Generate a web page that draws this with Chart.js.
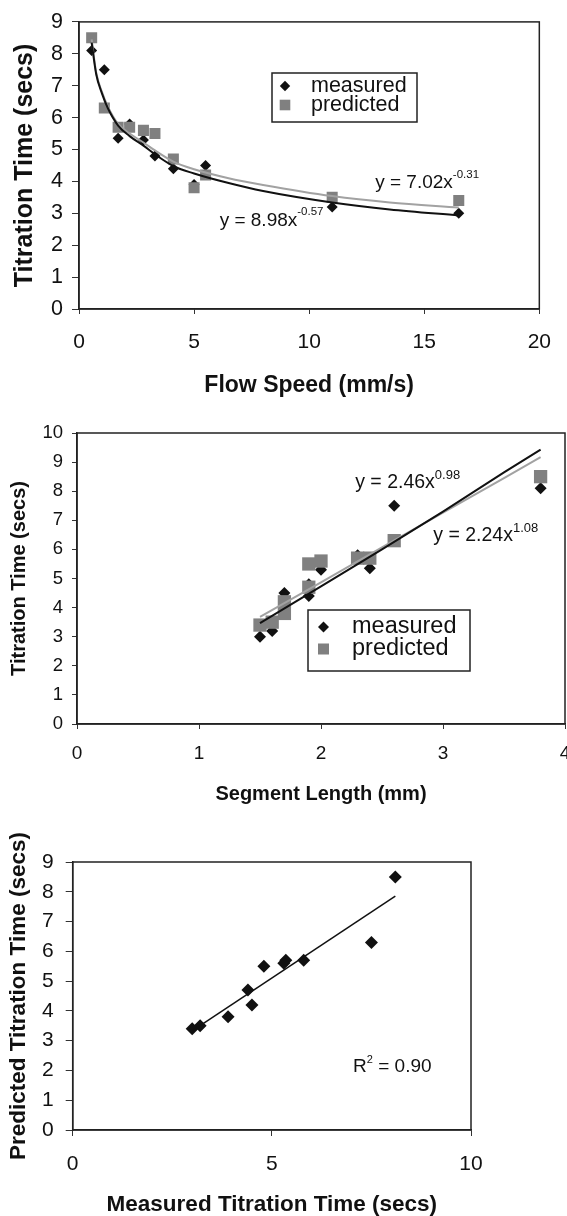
<!DOCTYPE html>
<html>
<head>
<meta charset="utf-8">
<title>Titration time charts</title>
<script src="https://cdn.jsdelivr.net/npm/chart.js@4.4.1/dist/chart.umd.min.js"></script>
<style>
  html, body { margin: 0; padding: 0; background: #fff; overflow: hidden; }
  body { width: 567px; height: 1216px; position: relative; }
  canvas { position: absolute; left: 0; }
  #speedChart { top: 0; }
  #lengthChart { top: 400px; }
  #agreementChart { top: 810px; }
</style>
</head>
<body>
<canvas id="speedChart" width="567" height="400"></canvas>
<canvas id="lengthChart" width="600" height="410"></canvas>
<canvas id="agreementChart" width="567" height="420"></canvas>

<script>
// Data (one entry per segment)
const flowSpeed = [0.55, 1.1, 1.7, 2.2, 2.8, 3.3, 4.1, 5.0, 5.5, 11, 16.5];
const segmentLength = [3.8, 2.6, 2.4, 2.3, 2.0, 1.9, 1.9, 1.7, 1.7, 1.6, 1.5];
const measured = [8.1, 7.5, 5.35, 5.8, 5.3, 4.8, 4.4, 3.9, 4.5, 3.2, 3.0];
const predicted = [8.5, 6.3, 5.7, 5.7, 5.6, 5.5, 4.7, 3.8, 4.2, 3.5, 3.4];

// Trend lines
const speedFitX = [0.55, 0.75, 1, 1.25, 1.7, 2.2, 2.8, 3.3, 4.1, 5, 6.5, 8, 11, 13.5, 16.5];
const speedMeasuredFit = [8.35, 7.35, 6.75, 6.3, 5.75, 5.42, 5.12, 4.85, 4.48, 4.25, 3.95, 3.7, 3.34, 3.12, 2.93];
const speedPredictedFit = [8.45, 7.4, 6.8, 6.35, 5.8, 5.5, 5.22, 4.97, 4.62, 4.38, 4.1, 3.89, 3.54, 3.34, 3.18];

const lengthFitX = [1.5, 2, 2.5, 3, 3.5, 3.8];
const lengthMeasuredFit = [3.47, 4.73, 6.0, 7.3, 8.65, 9.43];
const lengthPredictedFit = [3.68, 4.87, 6.07, 7.26, 8.45, 9.17];

const agreementFitX = [3.0, 8.1];
const agreementFitY = [3.33, 7.85];

// Axis ranges / ticks
const speedTicks = { min: 0, max: 20, step: 5 };
const lengthTicks = { min: 0, max: 4, step: 1 };
const agreementTicks = { min: 0, max: 10, step: 5 };
const timeTicks9 = { min: 0, max: 9, step: 1 };
const timeTicks10 = { min: 0, max: 10, step: 1 };

const FONT = '"Liberation Sans", Arial, Helvetica, sans-serif';
const INK = '#111';
const GREY_MARK = '#808080';
const GREY_LINE = '#a2a2a2';

Chart.defaults.font.family = FONT;
Chart.defaults.color = INK;

const toPoints = (xs, ys) => xs.map((x, i) => ({ x: x, y: ys[i] }));

function drawDiamond(ctx, x, y, r) {
  ctx.beginPath();
  ctx.moveTo(x - r, y);
  ctx.lineTo(x, y - r);
  ctx.lineTo(x + r, y);
  ctx.lineTo(x, y + r);
  ctx.closePath();
  ctx.fill();
}

// frame, legend box and equation labels
const overlayPlugin = {
  id: 'overlay',
  afterDatasetsDraw(chart, args, opts) {
    const { ctx, chartArea: a, scales } = chart;
    ctx.save();
    ctx.strokeStyle = '#222';
    ctx.lineWidth = 1.5;
    ctx.strokeRect(a.left, a.top, a.right - a.left, a.bottom - a.top);

    ctx.fillStyle = INK;
    ctx.textAlign = 'left';
    ctx.textBaseline = 'middle';
    (opts.notes || []).forEach((n) => {
      let x = scales.x.getPixelForValue(n.x);
      const y = scales.y.getPixelForValue(n.y);
      n.parts.forEach((p) => {
        ctx.font = p.size + 'px ' + FONT;
        ctx.fillText(p.text, x, y - (p.rise || 0));
        x += ctx.measureText(p.text).width + (p.gap || 0);
      });
    });

    const lg = opts.legend;
    if (lg) {
      ctx.fillStyle = '#fff';
      ctx.fillRect(lg.x, lg.y, lg.w, lg.h);
      ctx.strokeStyle = '#222';
      ctx.lineWidth = 1.5;
      ctx.strokeRect(lg.x, lg.y, lg.w, lg.h);
      lg.items.forEach((it) => {
        ctx.fillStyle = it.color;
        if (it.shape === 'diamond') {
          drawDiamond(ctx, lg.markX, it.y, it.size);
        } else {
          ctx.fillRect(lg.markX - it.size, it.y - it.size, it.size * 2, it.size * 2);
        }
        ctx.fillStyle = INK;
        ctx.font = lg.fontSize + 'px ' + FONT;
        ctx.fillText(it.label, lg.textX, it.y);
      });
    }
    ctx.restore();
  }
};

function axis(range, opt) {
  return {
    type: 'linear',
    min: range.min,
    max: range.max,
    afterFit: opt.fit,
    border: { display: true, color: '#222', width: 1.5 },
    grid: { drawOnChartArea: false, drawTicks: true, tickLength: opt.tickLength, color: '#333', lineWidth: 1 },
    ticks: { stepSize: range.step, padding: opt.padding, font: { size: opt.fontSize }, color: INK },
    title: {
      display: true,
      text: opt.title,
      color: INK,
      font: { size: opt.titleSize, weight: 'bold' },
      padding: opt.titlePadding
    }
  };
}

function baseOptions(layoutPadding, xAxis, yAxis, overlay) {
  return {
    responsive: false,
    animation: false,
    events: [],
    layout: { padding: layoutPadding },
    scales: { x: xAxis, y: yAxis },
    plugins: {
      legend: { display: false },
      tooltip: { enabled: false },
      overlay: overlay
    }
  };
}

function pointSet(label, pts, style, radius, color) {
  return {
    label: label,
    data: pts,
    showLine: false,
    pointStyle: style,
    pointRadius: radius,
    backgroundColor: color,
    borderWidth: 0
  };
}

function lineSet(label, pts, color, width, smooth) {
  return {
    label: label,
    data: pts,
    showLine: true,
    pointRadius: 0,
    borderColor: color,
    borderWidth: width,
    cubicInterpolationMode: smooth ? 'monotone' : 'default',
    tension: 0
  };
}

// Chart 1: titration time vs flow speed
new Chart(document.getElementById('speedChart'), {
  type: 'scatter',
  data: {
    datasets: [
      lineSet('measured fit', toPoints(speedFitX, speedMeasuredFit), INK, 2, true),
      lineSet('predicted fit', toPoints(speedFitX, speedPredictedFit), GREY_LINE, 2, true),
      pointSet('predicted', toPoints(flowSpeed, predicted), 'rect', 7.8, GREY_MARK),
      pointSet('measured', toPoints(flowSpeed, measured), 'rectRot', 5.5, INK)
    ]
  },
  options: baseOptions(
    { top: 15, right: 16, left: 0, bottom: 0 },
    axis(speedTicks, {
      fit: (s) => { s.height = 91; },
      tickLength: 5, padding: 16, fontSize: 21,
      title: 'Flow Speed (mm/s)', titleSize: 23, titlePadding: { top: 0, bottom: 1 }
    }),
    axis(timeTicks9, {
      fit: (s) => { s.width = 79; },
      tickLength: 7, padding: 9, fontSize: 21.5,
      title: 'Titration Time (secs)', titleSize: 25, titlePadding: { top: 10, bottom: 0 }
    }),
    {
      notes: [
        { x: 12.87, y: 3.97, parts: [{ text: 'y = 7.02x', size: 19 }, { text: '-0.31', size: 11.5, rise: 8 }] },
        { x: 6.11, y: 2.78, parts: [{ text: 'y = 8.98x', size: 19 }, { text: '-0.57', size: 11.5, rise: 8 }] }
      ],
      legend: {
        x: 272, y: 73, w: 145, h: 49, markX: 285, textX: 311, fontSize: 21.5,
        items: [
          { label: 'measured', shape: 'diamond', size: 5.2, color: INK, y: 86 },
          { label: 'predicted', shape: 'square', size: 5.3, color: GREY_MARK, y: 105 }
        ]
      }
    }
  ),
  plugins: [overlayPlugin]
});

// Chart 2: titration time vs segment length
new Chart(document.getElementById('lengthChart'), {
  type: 'scatter',
  data: {
    datasets: [
      lineSet('measured fit', toPoints(lengthFitX, lengthMeasuredFit), INK, 2, false),
      lineSet('predicted fit', toPoints(lengthFitX, lengthPredictedFit), GREY_LINE, 2, false),
      pointSet('predicted', toPoints(segmentLength, predicted), 'rect', 9.4, GREY_MARK),
      pointSet('measured', toPoints(segmentLength, measured), 'rectRot', 6, INK)
    ]
  },
  options: baseOptions(
    { top: 33, right: 35, left: 0, bottom: 0 },
    axis(lengthTicks, {
      fit: (s) => { s.height = 86; },
      tickLength: 5, padding: 13, fontSize: 19,
      title: 'Segment Length (mm)', titleSize: 20, titlePadding: { top: 0, bottom: 4 }
    }),
    axis(timeTicks10, {
      fit: (s) => { s.width = 77; },
      tickLength: 5, padding: 9, fontSize: 18.5,
      title: 'Titration Time (secs)', titleSize: 20, titlePadding: { top: 7, bottom: 0 }
    }),
    {
      notes: [
        { x: 2.28, y: 8.28, parts: [{ text: 'y = 2.46x', size: 19.5 }, { text: '0.98', size: 13, rise: 7.5 }] },
        { x: 2.92, y: 6.46, parts: [{ text: 'y = 2.24x', size: 19.5 }, { text: '1.08', size: 13, rise: 8 }] }
      ],
      legend: {
        x: 308, y: 210, w: 162, h: 61, markX: 323.5, textX: 352, fontSize: 23.5,
        items: [
          { label: 'measured', shape: 'diamond', size: 5.5, color: INK, y: 227 },
          { label: 'predicted', shape: 'square', size: 5.5, color: GREY_MARK, y: 249 }
        ]
      }
    }
  ),
  plugins: [overlayPlugin]
});

// Chart 3: predicted vs measured
new Chart(document.getElementById('agreementChart'), {
  type: 'scatter',
  data: {
    datasets: [
      lineSet('fit', toPoints(agreementFitX, agreementFitY), INK, 1.5, false),
      pointSet('segments', toPoints(measured, predicted), 'rectRot', 6.5, INK)
    ]
  },
  options: baseOptions(
    { top: 52, right: 96, left: 0, bottom: 0 },
    axis(agreementTicks, {
      fit: (s) => { s.height = 100; },
      tickLength: 6, padding: 16, fontSize: 21,
      title: 'Measured Titration Time (secs)', titleSize: 22.5, titlePadding: { top: 0, bottom: 11.5 }
    }),
    axis(timeTicks9, {
      fit: (s) => { s.width = 72.7; },
      tickLength: 7, padding: 12, fontSize: 21,
      title: 'Predicted Titration Time (secs)', titleSize: 22.5, titlePadding: { top: 5.5, bottom: 0 }
    }),
    {
      notes: [
        { x: 7.04, y: 2.12, parts: [{ text: 'R', size: 19 }, { text: '2', size: 11, rise: 7, gap: 0 }, { text: ' = 0.90', size: 19 }] }
      ]
    }
  ),
  plugins: [overlayPlugin]
});
</script>
</body>
</html>
